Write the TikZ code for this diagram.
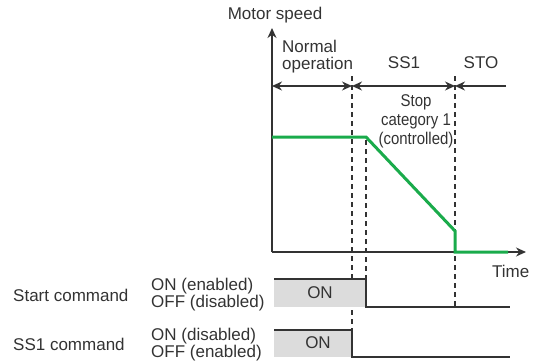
\documentclass[tikz,border=0pt]{standalone}
\usepackage{fontspec}
\setmainfont{Liberation Sans}
\usetikzlibrary{arrows.meta}
\definecolor{ink}{HTML}{333333}
\definecolor{speed}{HTML}{1AAB4B}
\definecolor{onfill}{HTML}{DCDCDC}
\newcommand{\narrow}[1]{\scalebox{0.88}[1]{#1}}
\tikzset{
  lbl/.style={font=\fontsize{17}{18}\selectfont, text=ink, inner sep=0pt},
  axis/.style={draw=ink, line width=1.3pt},
  tip/.style={-{Stealth[length=10pt,width=9pt]}},
  span/.style={draw=ink, line width=1.3pt, {Stealth[length=10pt,width=9pt]}-{Stealth[length=10pt,width=9pt]}},
  guide/.style={draw=ink, line width=1.1pt, dash pattern=on 5pt off 4pt},
  sig/.style={draw=ink, line width=1.1pt},
  curve/.style={draw=speed, line width=3pt},
}
\begin{document}
\begin{tikzpicture}[x=1pt,y=-1pt]
\useasboundingbox (0,0) rectangle (536,362);

% axes
\coordinate (O) at (272,252);
\coordinate (Ytop) at (272,28);
\coordinate (Xend) at (526,252);
\draw[axis,tip] (O) -- (Ytop);
\draw[axis,tip] (O) -- (Xend);
\node[lbl] (ylab) at (275,15) {Motor speed};
\node[lbl,anchor=west] (xlab) at (492,271) {Time};

% phase boundaries
\coordinate (g1t) at (352,76);  \coordinate (g1b) at (352,330);
\coordinate (g2t) at (366,140); \coordinate (g2b) at (366,279);
\coordinate (g3t) at (455,76);  \coordinate (g3b) at (455,307);
\draw[guide] (g1t) -- (g1b);
\draw[guide] (g2t) -- (g2b);
\draw[guide] (g3t) -- (g3b);

% phase spans
\coordinate (a0) at (272,86);
\coordinate (a1) at (352,86);
\coordinate (a2) at (455,86);
\coordinate (a3) at (506,86);
\draw[span] (a0) -- (a1);
\draw[span] (a1) -- (a2);
\draw[axis,tip] (a3) -- (a2);
\node[lbl,anchor=west,align=left] (normal) at (282,57) {Normal\\[-1pt]operation};
\node[lbl] (ss1) at (404,63) {SS1};
\node[lbl] (sto) at (481,63) {STO};
\node[lbl,align=center] (cat) at (416,121) {\narrow{Stop}\\[1pt]\narrow{category 1}\\[1pt]\narrow{(controlled)}};

% motor speed profile
\coordinate (s0) at (272,137);
\coordinate (s1) at (366,137);
\coordinate (s2) at (455,231);
\coordinate (s3) at (455,252);
\coordinate (s4) at (508,252);
\draw[curve] (s0) -- (s1) -- (s2) -- (s3) -- (s4);

% start command
\fill[onfill] (274,279) rectangle (366,307);
\coordinate (st0) at (274,279);
\coordinate (st1) at (366,279);
\coordinate (st2) at (366,307);
\coordinate (st3) at (510,307);
\draw[sig] (st0) -- (st1) -- (st2) -- (st3);
\node[lbl] (ston) at (320,293) {ON};
\node[lbl,anchor=west] (stlab) at (13,295) {Start command};
\node[lbl,anchor=west] (sthi) at (151,286) {ON (enabled)};
\node[lbl,anchor=west] (stlo) at (151,303) {OFF (disabled)};

% SS1 command
\fill[onfill] (274,330) rectangle (352,357);
\coordinate (ss0) at (274,330);
\coordinate (ss1) at (352,330);
\coordinate (ss2) at (352,357);
\coordinate (ss3) at (510,357);
\draw[sig] (ss0) -- (ss1) -- (ss2) -- (ss3);
\node[lbl] (sson) at (318,343) {ON};
\node[lbl,anchor=west] (sslab) at (13,344) {SS1 command};
\node[lbl,anchor=west] (sshi) at (151,336) {ON (disabled)};
\node[lbl,anchor=west] (sslo) at (151,353) {OFF (enabled)};
\end{tikzpicture}
\end{document}
